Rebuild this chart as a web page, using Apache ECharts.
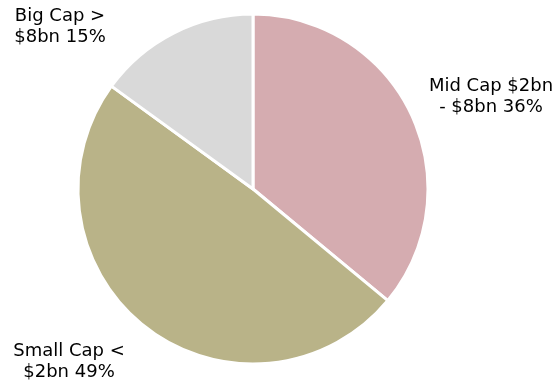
<!DOCTYPE html>
<html><head><meta charset="utf-8">
<script src="https://cdn.jsdelivr.net/npm/echarts@6/dist/echarts.min.js"></script>
<style>html,body{margin:0;padding:0;background:#fff}#c{width:560px;height:385px}</style>
</head><body><div id="c"></div>
<script>
const categories = ["Mid Cap $2bn\n- $8bn", "Small Cap <\n$2bn", "Big Cap >\n$8bn"];
const values = [36, 49, 15];
const colors = ["#D5ACB0", "#B9B388", "#D9D9D9"];
const labelPos = [[491, 97], [69, 362], [60, 27]];

const chart = echarts.init(document.getElementById('c'), null, {renderer: 'canvas'});
chart.setOption({
  animation: false,
  series: [{
    type: 'pie',
    center: [253, 189],
    radius: [0, 175],
    startAngle: 90,
    clockwise: true,
    data: categories.map((n, i) => ({name: n, value: values[i], itemStyle: {color: colors[i]}})),
    itemStyle: {borderColor: '#fff', borderWidth: 3},
    label: {
      show: true,
      formatter: p => p.name + ' ' + p.value + '%',
      fontFamily: 'DejaVu Sans',
      fontSize: 18,
      lineHeight: 21,
      color: '#000',
      align: 'center',
      overflow: 'none',
      width: 200
    },
    labelLine: {show: false},
    labelLayout: function (params) {
      const p = labelPos[params.dataIndex];
      return {x: p[0], y: p[1], align: 'center', verticalAlign: 'middle'};
    }
  }]
});
</script></body></html>
